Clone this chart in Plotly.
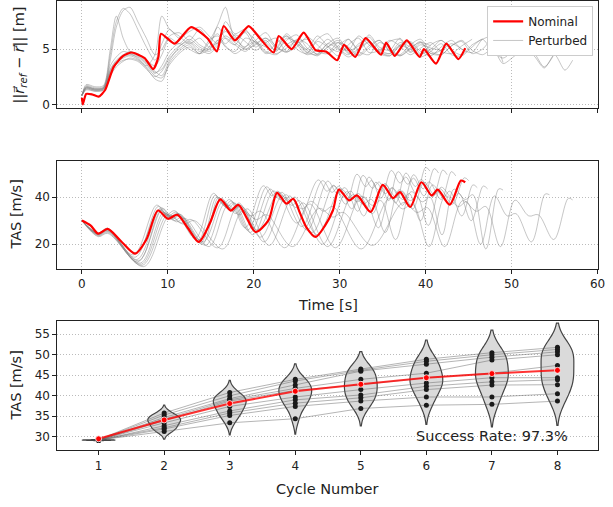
import plotly.graph_objects as go

# ---------------- Panel 1/2 data: nominal ----------------
NOM_ERR_T = [0, 0.1, 0.5, 1.2, 1.95, 2.7, 3.7, 4.8, 5.8, 7.3, 8.3, 8.9, 9.2, 10.8, 12.7, 14.6, 15.7, 16.5, 17.8, 19.4,
             20.7, 22.3, 22.9, 24.4, 25.8, 27.2, 28.4, 29.7, 30.5, 31.8, 33.0, 34.8, 35.4, 36.4, 37.8, 39.3, 39.8,
             41.2, 42.4, 43.8, 44.6]
NOM_ERR = [0.6, 0.0, 0.95, 0.9, 0.7, 1.3, 3.4, 4.4, 4.7, 4.2, 3.2, 4.3, 6.4, 5.5, 7.0, 6.0, 4.8, 7.1, 5.8, 7.1,
           6.0, 4.7, 6.2, 5.0, 6.5, 4.9, 4.8, 4.0, 5.4, 4.3, 6.0, 4.5, 5.6, 4.4, 5.8, 4.3, 5.0, 3.7, 5.5, 4.1, 5.1]

NOM_TAS_T = [0, 1.0, 1.9, 3.0, 4.5, 6.2, 7.5, 8.85, 10.0, 11.1, 12.3, 13.6, 14.9, 16.1, 17.3, 18.2, 19.2, 20.2,
             21.7, 22.7, 23.8, 24.6, 25.4, 26.1, 27.2, 28.3, 29.2, 29.9, 31.1, 32.0, 33.6, 35.0, 36.2, 37.0, 38.2,
             39.5, 40.7, 41.4, 42.8, 44.1, 44.6]
NOM_TAS = [30.1, 28.0, 24.5, 26.5, 21.5, 16.0, 22.0, 34.3, 30.8, 32.5, 27.0, 21.0, 29.0, 39.0, 34.3, 36.7, 31.0,
           25.2, 30.1, 41.8, 37.2, 39.3, 33.0, 27.3, 23.1, 28.0, 34.3, 43.2, 38.6, 40.7, 33.7, 45.2, 39.6, 42.1,
           35.8, 46.3, 40.7, 43.2, 36.8, 47.0, 46.3]

# ---------------- perturbed runs: position error ----------------
ERR_T_GRID = [0, 0.5, 1.5, 2.5, 3.3, 4.0, 4.8, 5.6, 6.5, 7.5, 8.5, 9.3, 10.2, 11.3, 12.5, 13.7, 14.8, 15.8, 16.7,
              17.8, 19.0, 20.2, 21.4, 22.6, 23.8, 25.0, 26.2, 27.4, 28.6, 29.8, 31.0, 32.2, 33.4, 34.6, 35.8, 37.0,
              38.2, 39.4, 40.6, 41.8, 43.0, 44.2, 45.4, 46.6, 47.8, 49.0, 50.2, 51.4, 52.6, 53.8, 55.0, 56.2, 57.1]
S1_ERR = [0.8, 1.7, 1.5, 1.6, 4.5, 7.5, 8.7, 8.2, 6.8, 5.2, 4.0, 5.5, 6.8, 6.0,
          6.6, 7.0, 6.2, 5.5, 7.5, 6.4, 6.8, 5.6, 6.0, 5.2, 6.4, 5.5, 5.0, 6.2, 5.3, 4.8, 5.9, 5.0, 6.3, 5.2, 4.9,
          6.0, 4.8, 5.6, 5.3]
S2_ERR = [0.8, 1.6, 1.4, 1.5, 4.0, 7.0, 8.5, 8.8, 7.5, 6.0, 4.5, 5.0, 6.2, 6.5,
          5.8, 6.8, 5.9, 7.2, 8.8, 6.0, 6.5, 5.2, 5.8, 4.8, 6.0, 5.6, 4.7, 5.9, 6.4, 5.2, 4.9, 6.2, 5.4, 4.8, 5.7,
          5.9, 4.7, 5.4, 5.1, 4.9]
S3_ERR = [0.8, 1.8, 1.6, 1.7, 5.0, 8.0, 6.0, 4.8, 4.6, 4.0, 3.5, 4.5, 6.0, 5.5,
          6.2, 5.4, 5.0, 5.8, 6.6, 5.9, 5.2, 6.4, 5.6, 4.9, 5.8, 6.3, 5.1, 4.6, 5.5, 6.0, 4.9, 5.3, 6.1, 5.0, 4.6,
          5.6, 5.2, 4.5, 5.4, 5.8, 5.0]
S4_ERR = [0.8, 1.5, 1.3, 1.4, 3.0, 3.8, 4.3, 4.5, 4.3, 3.6, 2.8, 3.5, 4.8, 5.5,
          5.0, 4.6, 5.8, 6.2, 5.5, 6.3, 5.7, 4.9, 5.6, 6.0, 4.8, 5.2, 6.1, 5.4, 4.6, 5.3, 5.9, 4.8, 4.5, 5.6, 5.1,
          4.4, 5.0, 5.7, 4.6, 4.9, 5.5, 5.0]
S5_ERR = [0.8, 1.4, 1.2, 1.3, 2.8, 3.6, 4.0, 4.1, 3.9, 3.2, 2.5, 3.0, 4.2, 5.0,
          5.6, 4.8, 5.2, 7.0, 6.0, 5.4, 6.6, 5.8, 4.7, 5.5, 6.2, 5.0, 4.6, 5.7, 5.2, 4.4, 5.4, 6.0, 4.7, 4.9, 5.8,
          5.3, 4.5, 5.1, 5.6, 4.8, 4.6, 5.3, 5.9]
S6_ERR = [0.8, 1.6, 1.4, 1.5, 3.5, 4.3, 4.8, 4.6, 4.2, 3.5, 4.5, 8.0, 6.8, 6.2,
          5.5, 6.0, 5.2, 5.6, 6.8, 6.2, 5.0, 5.8, 6.5, 5.2, 4.8, 5.9, 5.5, 4.5, 5.2, 5.8, 4.6, 5.0, 5.7, 4.8, 4.4,
          5.3, 5.6, 4.6, 5.0, 5.8, 4.9, 4.5, 5.4, 5.9]
S7_ERR = [0.8, 1.3, 1.2, 1.3, 2.6, 3.4, 3.9, 4.2, 4.0, 3.3, 2.3, 2.1, 3.8, 4.8,
          5.4, 4.6, 5.6, 6.4, 5.2, 4.8, 6.0, 5.6, 4.6, 5.0, 6.2, 5.4, 4.5, 5.0, 5.9, 5.1, 4.5, 5.5, 5.8, 4.7, 4.6,
          5.4, 5.7, 4.8, 4.4, 5.2, 5.8, 5.0, 4.7, 5.9, 6.2]
S8_ERR = [0.8, 1.5, 1.4, 1.5, 3.2, 4.0, 4.5, 4.8, 4.5, 3.8, 3.0, 2.6, 4.0, 5.2,
          5.9, 5.2, 4.8, 5.5, 6.2, 5.6, 5.0, 5.4, 6.0, 5.3, 4.7, 5.5, 5.9, 4.8, 4.6, 5.6, 5.2, 4.4, 5.1, 5.8, 4.9,
          4.5, 5.4, 5.9, 4.8, 4.5, 5.3, 5.7, 4.6, 5.0, 5.9, 3.8]
S9_ERR = [0.8, 1.4, 1.3, 1.4, 2.9, 3.7, 4.2, 4.4, 4.1, 3.4, 2.6, 2.4, 3.6, 4.6,
          5.2, 4.6, 5.0, 5.8, 5.3, 4.6, 5.2, 5.7, 4.8, 4.5, 5.4, 5.8, 4.7, 4.5, 5.5, 5.0, 4.3, 4.9, 5.6, 4.6, 4.4,
          5.3, 5.0, 4.3, 4.8, 5.5, 4.5, 4.4, 5.2, 5.9, 4.8, 4.2, 4.9, 5.6, 4.7, 3.4, 4.6]
S10_ERR = [0.8, 1.5, 1.3, 1.4, 3.1, 3.9, 4.4, 4.6, 4.4, 3.7, 2.9, 3.2, 4.4, 5.3,
           5.7, 5.0, 4.6, 5.3, 6.0, 5.4, 4.8, 5.5, 5.2, 4.6, 5.1, 5.7, 4.9, 4.4, 5.2, 5.6, 4.7, 4.5, 5.3, 5.8, 4.8,
           4.4, 5.1, 5.6, 4.6, 4.5, 5.3, 5.8, 4.9, 4.5, 5.0, 3.7, 4.3, 5.0, 4.4, 3.3, 4.5, 3.1, 4.0]

# ---------------- perturbed runs: TAS ----------------
S1_T = [0, 1.9, 3.0, 6.0, 8.7, 9.8, 10.8, 13.2, 15.3, 16.4, 17.2, 19.0, 21.1, 22.1, 22.8, 25.0, 27.5, 28.5, 29.3,
        30.7, 32.0, 33.0, 33.7, 34.8, 36.0, 37.0, 37.7, 38.9, 40.0, 40.5]
S1_TAS = [30, 24.8, 26.8, 15.5, 36.6, 32.5, 34.2, 22.5, 41.6, 37, 39, 27, 44.8, 40.5, 42.5, 29, 47.3, 42.5, 45, 37,
          49.7, 44.5, 47, 39.5, 51.3, 46, 48.5, 41.5, 52.6, 51.0]
S2_T = [0, 1.9, 3.0, 6.2, 8.9, 10.0, 11.0, 13.5, 15.5, 16.6, 17.4, 19.3, 21.5, 22.5, 23.3, 25.6, 28.0, 29.1, 29.9,
        31.4, 32.7, 33.8, 34.6, 35.7, 36.8, 37.9, 38.6, 39.8, 41.0, 41.5]
S2_TAS = [30, 24.6, 26.5, 14.5, 36.1, 32, 33.6, 21.5, 40.8, 36.2, 38.4, 26, 44.4, 39.8, 42, 27.5, 47.0, 42, 44.6, 35,
          49.2, 43.8, 46.4, 38.5, 50.8, 45.5, 48, 40.5, 52.1, 50.2]
S3_T = [0, 1.9, 3.1, 6.4, 9.2, 10.3, 11.3, 13.8, 15.7, 16.8, 17.6, 19.6, 21.9, 23.0, 23.8, 26.2, 28.6, 29.7, 30.6,
        32.1, 33.4, 34.5, 35.3, 36.5, 37.7, 38.8, 39.5, 40.8, 42.0, 42.5]
S3_TAS = [30, 24.4, 26.2, 13.5, 35.5, 31.5, 33, 20.5, 40.1, 35.5, 37.8, 25, 43.4, 39, 41, 26, 46.8, 41.5, 44, 34,
          48.5, 43, 45.8, 37.5, 50.2, 44.5, 47.5, 40, 51.5, 49.5]
S4_T = [0, 1.9, 3.0, 6.5, 9.4, 10.5, 11.5, 14.0, 15.9, 17.0, 17.8, 19.9, 22.3, 23.4, 24.2, 26.8, 29.3, 30.4, 31.3,
        32.8, 34.2, 35.3, 36.1, 37.3, 38.6, 39.7, 40.4, 41.8, 43.0, 43.5]
S4_TAS = [30, 24.2, 26.0, 12.5, 35.1, 31, 32.6, 20, 39.8, 35, 37.5, 24, 42.6, 38, 40.5, 25, 44.8, 40, 42.5, 32,
          46.3, 41.5, 44, 36.5, 49.5, 43.5, 46.5, 39, 50.8, 49]
S5_T = [0, 1.9, 3.0, 6.3, 9.0, 10.1, 11.1, 13.7, 16.2, 17.4, 18.3, 20.4, 22.9, 24.0, 24.8, 27.4, 30.1, 31.3, 32.2,
        33.8, 35.3, 36.5, 37.3, 38.5, 39.8, 41.0, 41.7, 43.1, 44.5, 45.0]
S5_TAS = [30, 24.5, 26.4, 16.5, 34.8, 31.5, 33, 22, 39.5, 35, 37.5, 26, 42.1, 38, 40, 24, 43.5, 39.5, 41.5, 33,
          45.2, 40, 42.5, 35, 46.3, 41, 43.5, 37, 48.2, 47]
S6_T = [0, 1.9, 3.0, 6.6, 9.2, 10.4, 11.4, 14.1, 16.4, 17.6, 18.5, 20.8, 23.3, 24.4, 25.3, 28.0, 30.8, 32.0, 32.9,
        34.5, 36.1, 37.3, 38.1, 39.4, 40.8, 42.0, 42.8, 44.2, 45.5, 46.0]
S6_TAS = [30, 24.2, 26.0, 13, 34.2, 30.5, 32, 21, 38.2, 34, 36.5, 23, 40.5, 36.5, 38.5, 20, 42.3, 38, 40, 27,
          43.9, 39, 41.5, 30, 45.2, 40, 42.5, 32, 45.2, 44]
S7_T = [0, 1.9, 3.0, 6.8, 9.5, 10.7, 11.7, 14.4, 16.6, 17.9, 18.8, 21.2, 23.7, 24.9, 25.8, 28.6, 31.5, 32.7, 33.7,
        35.3, 36.9, 38.2, 39.0, 40.3, 41.8, 43.1, 43.9, 45.3, 46.7, 47.2]
S7_TAS = [30, 24.0, 25.6, 12, 33.5, 30, 31.5, 19.5, 37.1, 33, 35.5, 21, 39.8, 35.5, 37.5, 19, 41.0, 37, 39, 25,
          43.1, 38.5, 40.5, 28, 44.2, 39.5, 41.5, 30, 44.7, 43.5]
S8_T = [0, 1.9, 3.0, 6.9, 9.7, 11.0, 12.0, 14.8, 17.0, 18.3, 19.3, 21.8, 24.4, 25.6, 26.6, 29.5, 32.5, 33.8, 34.8,
        36.5, 38.3, 39.6, 40.5, 41.9, 43.3, 44.6, 45.5, 47.0, 48.5, 49.0]
S8_TAS = [30, 23.8, 25.4, 11.5, 33.0, 29.5, 31, 19, 36.6, 32.5, 35, 19.5, 39.0, 35, 37, 18.5, 40.3, 36.5, 38.5, 22,
          42.3, 38, 40, 24, 43.4, 39, 41, 18, 43.5, 43]
S9_T = [0, 1.9, 3.0, 7.0, 10.0, 11.5, 12.7, 15.8, 18.1, 19.6, 20.8, 23.6, 26.6, 28.1, 29.2, 32.5, 35.8, 37.3, 38.5,
        40.4, 42.3, 43.8, 44.8, 46.4, 48.0, 49.5, 50.5, 52.3, 53.9, 54.4]
S9_TAS = [30, 23.5, 25.0, 11, 32.7, 29, 30.5, 18.5, 36.0, 32, 34, 18.5, 38.2, 34, 36, 18, 39.5, 35, 37, 19,
          40.5, 36, 38, 20, 40.5, 32, 33, 21, 41.3, 41]
S10_T = [0, 1.9, 3.0, 7.2, 10.2, 11.8, 13.1, 16.4, 18.7, 20.3, 21.5, 24.5, 27.6, 29.2, 30.4, 33.8, 37.4, 39.0, 40.2,
         42.2, 44.3, 45.9, 47.0, 48.7, 50.4, 52.0, 53.1, 54.9, 56.6, 57.1]
S10_TAS = [30, 23.2, 24.6, 10.5, 32.1, 28.5, 30, 18, 34.2, 30.5, 32.5, 19, 35.2, 31.5, 33.5, 19.5, 37.7, 33.5, 35.5,
           19, 38.5, 34, 36, 19, 38.7, 32, 32.5, 22, 39.5, 38.8]

# ---------------- Panel 3: TAS per cycle ----------------
CYCLES = [1, 2, 3, 4, 5, 6, 7, 8]
NOM_CYCLE = [29.5, 34.1, 38.1, 41.1, 42.8, 44.4, 45.4, 46.2]
C1 = [29.3, 29.25, 29.2, 29.2, 29.15, 29.2, 29.1, 29.25, 29.15, 29.2]
C2 = [35.8, 35.3, 34.7, 34.3, 34.0, 33.4, 32.7, 32.2, 31.9, 31.3]
C3 = [40.8, 40.0, 39.3, 39.0, 38.7, 37.4, 36.3, 35.8, 35.2, 33.4]
C4 = [44.0, 43.6, 42.6, 41.8, 41.3, 39.7, 39.0, 38.2, 37.4, 34.4]
C5 = [46.5, 46.2, 46.0, 44.0, 42.7, 41.5, 40.2, 39.5, 38.7, 36.9]
C6 = [48.9, 48.4, 47.7, 45.5, 44.4, 43.1, 42.3, 41.5, 39.7, 37.7]
C7 = [50.5, 50.0, 49.4, 48.7, 45.5, 44.4, 43.4, 42.6, 39.7, 37.9]
C8 = [51.8, 51.3, 50.7, 50.0, 47.4, 44.4, 43.9, 42.7, 40.5, 38.7]
SUCCESS_TEXT = "Success Rate: 97.3%"

ERR_RUNS = [S1_ERR, S2_ERR, S3_ERR, S4_ERR, S5_ERR, S6_ERR, S7_ERR, S8_ERR, S9_ERR, S10_ERR]
TAS_RUNS = [(S1_T, S1_TAS), (S2_T, S2_TAS), (S3_T, S3_TAS), (S4_T, S4_TAS), (S5_T, S5_TAS),
            (S6_T, S6_TAS), (S7_T, S7_TAS), (S8_T, S8_TAS), (S9_T, S9_TAS), (S10_T, S10_TAS)]
CYCLE_VALS = [C1, C2, C3, C4, C5, C6, C7, C8]

FONT = "DejaVu Sans"
GRAY = "rgba(128,128,128,0.5)"
W, H = 613, 507

fig = go.Figure()

# Panel 1
for i, v in enumerate(ERR_RUNS):
    fig.add_trace(go.Scatter(x=ERR_T_GRID[:len(v)], y=v, mode="lines", name="Perturbed",
                             legendgroup="p", showlegend=(i == 0), legendrank=2,
                             line=dict(color=GRAY, width=0.9, shape="spline", smoothing=0.8),
                             xaxis="x", yaxis="y", hoverinfo="skip"))
fig.add_trace(go.Scatter(x=NOM_ERR_T, y=NOM_ERR, mode="lines", name="Nominal", legendrank=1,
                         line=dict(color="red", width=2.2, shape="spline", smoothing=0.6),
                         xaxis="x", yaxis="y"))

# Panel 2
for t, v in TAS_RUNS:
    fig.add_trace(go.Scatter(x=t, y=v, mode="lines", showlegend=False,
                             line=dict(color=GRAY, width=0.9, shape="spline", smoothing=1.0),
                             xaxis="x2", yaxis="y2", hoverinfo="skip"))
fig.add_trace(go.Scatter(x=NOM_TAS_T, y=NOM_TAS, mode="lines", showlegend=False,
                         line=dict(color="red", width=2.2, shape="spline", smoothing=0.8),
                         xaxis="x2", yaxis="y2"))

# Panel 3 violins
for c, vals, nom in zip(CYCLES, CYCLE_VALS, NOM_CYCLE):
    fig.add_trace(go.Violin(x=[c] * (len(vals) + 1), y=vals + [nom], width=0.5, points=False,
                            fillcolor="rgb(218,218,218)", line=dict(color="#444444", width=1.2),
                            showlegend=False, spanmode="soft", hoverinfo="skip",
                            xaxis="x3", yaxis="y3"))
# lines connecting each run
n_runs = len(C1)
for j in range(n_runs):
    fig.add_trace(go.Scatter(x=CYCLES, y=[cv[j] for cv in CYCLE_VALS], mode="lines", showlegend=False,
                             line=dict(color="rgba(100,100,100,0.6)", width=0.8),
                             xaxis="x3", yaxis="y3", hoverinfo="skip"))
for c, vals in zip(CYCLES, CYCLE_VALS):
    fig.add_trace(go.Scatter(x=[c] * len(vals), y=vals, mode="markers", showlegend=False,
                             marker=dict(color="#1a1a1a", size=5),
                             xaxis="x3", yaxis="y3", hoverinfo="skip"))
fig.add_trace(go.Scatter(x=CYCLES, y=NOM_CYCLE, mode="lines+markers", showlegend=False,
                         line=dict(color="rgba(255,0,0,0.8)", width=2),
                         marker=dict(color="red", size=6, line=dict(color="white", width=0.8)),
                         xaxis="x3", yaxis="y3"))


def px_x(p):
    return p / W


def px_y(p):
    return (H - p) / H


X_DOM = [px_x(58), px_x(605)]
axis_common = dict(showline=True, linecolor="#222", linewidth=1, mirror=True, ticks="outside",
                   ticklen=4, tickcolor="#222", zeroline=False,
                   tickfont=dict(family=FONT, size=12, color="#222"),
                   gridcolor="rgba(170,170,170,0.8)", griddash="1px,2px", gridwidth=0.8)

fig.update_layout(
    width=W, height=H, margin=dict(l=0, r=0, t=0, b=0),
    plot_bgcolor="white", paper_bgcolor="white",
    font=dict(family=FONT, size=12, color="#222"),
    violinmode="overlay",
    xaxis=dict(domain=X_DOM, range=[-2.86, 60.06], tickvals=[0, 10, 20, 30, 40, 50, 60],
               showticklabels=False, showgrid=True, anchor="y", **axis_common),
    yaxis=dict(domain=[px_y(109), px_y(1)], range=[-0.36, 9.37], tickvals=[0, 5], showgrid=True,
               anchor="x", **axis_common),
    xaxis2=dict(domain=X_DOM, range=[-2.86, 60.06], tickvals=[0, 10, 20, 30, 40, 50, 60],
                showgrid=True, anchor="y2", **axis_common),
    yaxis2=dict(domain=[px_y(270.7), px_y(162)], range=[9.45, 55.3], tickvals=[20, 40], showgrid=True,
                anchor="x2", **axis_common),
    xaxis3=dict(domain=X_DOM, range=[0.37, 8.62], tickvals=CYCLES, showgrid=False, anchor="y3",
                **axis_common),
    yaxis3=dict(domain=[px_y(453), px_y(323)], range=[26.7, 58.2], tickvals=[30, 35, 40, 45, 50, 55],
                showgrid=True, anchor="x3", **axis_common),
    legend=dict(x=px_x(600), y=px_y(6), xanchor="right", yanchor="top",
                bgcolor="white", bordercolor="#cccccc", borderwidth=1,
                font=dict(family=FONT, size=12, color="#222"), itemwidth=30, tracegroupgap=0),
    showlegend=True,
)

ann_font = dict(family=FONT, size=14.5, color="#222")
fig.add_annotation(text="||<i>r⃗</i><sub><i>ref</i></sub> − <i>r⃗</i>|| [m]", x=px_x(20), y=px_y(55),
                   xref="paper", yref="paper", textangle=-90, showarrow=False, font=ann_font,
                   xanchor="center", yanchor="middle")
fig.add_annotation(text="TAS [m/s]", x=px_x(16), y=px_y(216), xref="paper", yref="paper",
                   textangle=-90, showarrow=False, font=ann_font, xanchor="center", yanchor="middle")
fig.add_annotation(text="TAS [m/s]", x=px_x(16), y=px_y(388), xref="paper", yref="paper",
                   textangle=-90, showarrow=False, font=ann_font, xanchor="center", yanchor="middle")
fig.add_annotation(text="Time [s]", x=px_x(331.5), y=px_y(307), xref="paper", yref="paper",
                   showarrow=False, font=ann_font, xanchor="center", yanchor="middle")
fig.add_annotation(text="Cycle Number", x=px_x(331.5), y=px_y(492), xref="paper", yref="paper",
                   showarrow=False, font=ann_font, xanchor="center", yanchor="middle")
fig.add_annotation(text=SUCCESS_TEXT, x=px_x(577), y=px_y(439), xref="paper", yref="paper",
                   showarrow=False, font=ann_font, xanchor="right", yanchor="middle")

# remove the page's default 8px body margin so the figure sits at the window origin
fig.write_html("out.html", config={"displayModeBar": False},
               post_script="document.body.style.margin='0';document.body.style.overflow='hidden';")
